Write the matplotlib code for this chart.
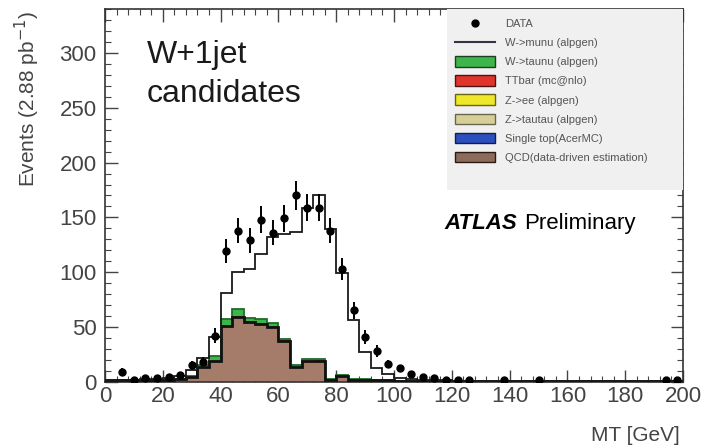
import numpy as np
import matplotlib
matplotlib.use("Agg")
import matplotlib.pyplot as plt
from matplotlib.lines import Line2D
from matplotlib.patches import Patch, Rectangle
from matplotlib.ticker import MultipleLocator

plt.rcParams['font.family'] = ['Liberation Sans', 'DejaVu Sans']

# ---- data (4 GeV bins from 0 to 200) ----
bin_edges = list(range(0, 204, 4))

data = [0, 9, 1, 3, 3, 4, 6, 15, 18, 42,
        119, 138, 129, 148, 136, 149, 170, 159, 159, 138,
        103, 65, 41, 28, 16, 12, 7, 4, 3, 1,
        1, 1, 0, 0, 1, 0, 0, 1, 0, 0,
        0, 0, 0, 0, 0, 0, 0, 0, 1, 1]

qcd = [1, 1, 1, 1.2, 1.2, 1.5, 2, 4, 13, 19,
       51, 59, 54, 53, 50, 37, 13, 19, 19, 1.5,
       5, 1.5, 1.5, 1, 1, 0.6, 0.5, 0.5, 0.4, 0.4,
       0.3, 0.3, 0.3, 0.3, 0.3, 0.3, 0.3, 0.3, 0.3, 0.3,
       0.3, 0.3, 0.3, 0.3, 0.3, 0.3, 0.3, 0.3, 0.3, 0.3]

single_top = [0, 0, 0, 0, 0, 0, 0, 0, 0, 0.1,
              0.1, 0.1, 0.1, 0.1, 0.1, 0.1, 0.1, 0.1, 0.1, 0.1,
              0.1, 0, 0, 0, 0, 0, 0, 0, 0, 0,
              0, 0, 0, 0, 0, 0, 0, 0, 0, 0,
              0, 0, 0, 0, 0, 0, 0, 0, 0, 0]

ztautau = [0, 0, 0, 0, 0.1, 0.1, 0.1, 0.2, 0.2, 0.2,
           0.2, 0.2, 0.2, 0.1, 0.1, 0.1, 0.1, 0.1, 0, 0,
           0, 0, 0, 0, 0, 0, 0, 0, 0, 0,
           0, 0, 0, 0, 0, 0, 0, 0, 0, 0,
           0, 0, 0, 0, 0, 0, 0, 0, 0, 0]

zee = [0, 0, 0, 0, 0, 0, 0, 0, 0.1, 0.1,
       0.1, 0.1, 0.1, 0.1, 0.1, 0.1, 0, 0, 0, 0,
       0, 0, 0, 0, 0, 0, 0, 0, 0, 0,
       0, 0, 0, 0, 0, 0, 0, 0, 0, 0,
       0, 0, 0, 0, 0, 0, 0, 0, 0, 0]

ttbar = [0, 0, 0, 0, 0, 0, 0, 0.1, 0.2, 0.3,
         0.4, 0.5, 0.5, 0.5, 0.5, 0.5, 0.5, 0.4, 0.4, 0.4,
         0.3, 0.3, 0.3, 0.2, 0.2, 0.2, 0.2, 0.1, 0.1, 0.1,
         0.1, 0.1, 0.1, 0.1, 0.1, 0, 0, 0, 0, 0,
         0, 0, 0, 0, 0, 0, 0, 0, 0, 0]

wtaunu = [0, 0, 0, 0, 0, 0, 0.3, 1, 2, 4,
          5, 6, 3, 3, 3, 1.5, 1, 1, 1, 0.5,
          0.5, 0.3, 0.3, 0.2, 0.2, 0.1, 0.1, 0.1, 0, 0,
          0, 0, 0, 0, 0, 0, 0, 0, 0, 0,
          0, 0, 0, 0, 0, 0, 0, 0, 0, 0]

wmunu = [0.3, 0.5, 0.5, 0.8, 1, 1.5, 2.5, 5, 6, 17,
         24, 34, 45, 60, 78, 95.5, 122, 138, 150, 137,
         93.5, 54, 25, 11, 5, 2.3, 1.4, 1, 0.7, 0.5,
         0.4, 0.4, 0.3, 0.3, 0.3, 0.3, 0.2, 0.2, 0.2, 0.2,
         0.2, 0.2, 0.2, 0.2, 0.2, 0.2, 0.2, 0.2, 0.2, 0.2]

legend_labels = ["DATA", "W->munu (alpgen)", "W->taunu (alpgen)", "TTbar (mc@nlo)",
                 "Z->ee (alpgen)", "Z->tautau (alpgen)", "Single top(AcerMC)",
                 "QCD(data-driven estimation)"]
yticks = [0, 50, 100, 150, 200, 250, 300]
xticks = [0, 20, 40, 60, 80, 100, 120, 140, 160, 180, 200]

# ---- figure ----
W, H = 704, 448
fig = plt.figure(figsize=(W / 100, H / 100), dpi=100)
ax_l, ax_r, ax_t, ax_b = 105, 683, 9.5, 381.5
ax = fig.add_axes([ax_l / W, 1 - ax_b / H, (ax_r - ax_l) / W, (ax_b - ax_t) / H])

edges = np.array(bin_edges, dtype=float)
centers = 0.5 * (edges[:-1] + edges[1:])

c_qcd = '#a57b69'
c_st = '#2b4fbf'
c_ztt = '#d8cf98'
c_zee = '#efe82a'
c_tt = '#e0352b'
c_wtn = '#3cb54a'

stack = [(qcd, c_qcd, '#111111', 2.0),
         (single_top, c_st, '#1a2f7a', 0.6),
         (ztautau, c_ztt, '#8a8560', 0.6),
         (zee, c_zee, '#8a8420', 0.6),
         (ttbar, c_tt, '#7a1a15', 0.6),
         (wtaunu, c_wtn, '#1f6b2a', 1.3)]

base = np.zeros(len(centers))
tops = []
for vals, col, ecol, lw in stack:
    v = np.array(vals, dtype=float)
    ax.stairs(base + v, edges, baseline=base, fill=True, color=col, lw=0, zorder=2)
    tops.append((base + v, ecol, lw))
    base = base + v

# W->munu on top: white fill with black outline
wm = np.array(wmunu, dtype=float)
ax.stairs(base + wm, edges, baseline=base, fill=True, color='white', lw=0, zorder=1)
total = base + wm

for top, ecol, lw in reversed(tops):
    ax.stairs(top, edges, color=ecol, lw=lw, zorder=3)
ax.stairs(total, edges, color='#1a1a1a', lw=1.3, zorder=4)

# data
d = np.array(data, dtype=float)
m = d > 0
ax.errorbar(centers[m], d[m], yerr=np.sqrt(d[m]), fmt='o', color='black',
            ms=5, elinewidth=1.4, capsize=0, zorder=6)

# axes styling
ax.set_xlim(0, 200)
ax.set_ylim(0, 340)
ax.set_xticks(xticks)
ax.set_yticks(yticks)
ax.xaxis.set_minor_locator(MultipleLocator(4))
ax.yaxis.set_minor_locator(MultipleLocator(10))
ax.tick_params(which='both', direction='in', top=True, right=True, colors='#444444',
               labelcolor='#444444', labelsize=16)
ax.tick_params(which='major', length=9, width=1.0)
ax.tick_params(which='minor', length=4.5, width=0.8)
ax.tick_params(axis='x', pad=3)
ax.tick_params(axis='y', pad=6)
for s in ax.spines.values():
    s.set_color('#333333')
    s.set_linewidth(1.2)

# y label placed high like ROOT
fig.text(27 / W, 1 - 99 / H, r'Events (2.88 pb$^{-1}$)', rotation=90, ha='center', va='center',
         fontsize=15, color='#444444')
fig.text(680 / W, 1 - 435 / H, 'MT [GeV]', ha='right', va='center', fontsize=15, color='#444444')

# legend background
x0 = (447 - ax_l) / (ax_r - ax_l)
y0 = (ax_b - 190) / (ax_b - ax_t)
ax.add_patch(Rectangle((x0, y0), 1 - x0, 1 - y0, transform=ax.transAxes,
                       facecolor='#f0f0f0', edgecolor='none', zorder=5))

handles = [Line2D([], [], marker='o', color='black', ls='none', ms=5),
           Line2D([], [], color='#333344', lw=1.5),
           Patch(facecolor=c_wtn, edgecolor='#1f3d22', lw=1.0),
           Patch(facecolor=c_tt, edgecolor='#4a1510', lw=1.0),
           Patch(facecolor=c_zee, edgecolor='#6a6410', lw=1.0),
           Patch(facecolor=c_ztt, edgecolor='#6a6550', lw=1.0),
           Patch(facecolor=c_st, edgecolor='#101e50', lw=1.0),
           Patch(facecolor='#8d6b5b', edgecolor='#2a1a12', lw=1.0)]
leg = fig.legend(handles, legend_labels, loc='upper left',
                 bbox_to_anchor=(455 / W, 1 - 18 / H), bbox_transform=fig.transFigure,
                 frameon=False, fontsize=8, borderpad=0, handlelength=3.6,
                 handleheight=1.1, labelspacing=0.72, handletextpad=0.9, borderaxespad=0)
for t in leg.get_texts():
    t.set_color('#555555')
leg.set_zorder(7)

# titles
fig.text(147 / W, 1 - 63 / H, 'W+1jet', fontsize=23, va='baseline', ha='left', color='#1a1a1a')
fig.text(147 / W, 1 - 102 / H, 'candidates', fontsize=23, va='baseline', ha='left', color='#1a1a1a')
fig.text(444 / W, 1 - 229 / H, 'ATLAS', fontsize=16, fontweight='bold', fontstyle='italic',
         va='baseline', ha='left', color='black')
fig.text(524 / W, 1 - 229 / H, 'Preliminary', fontsize=16, va='baseline', ha='left', color='black')

fig.savefig('out.png', dpi=100)
